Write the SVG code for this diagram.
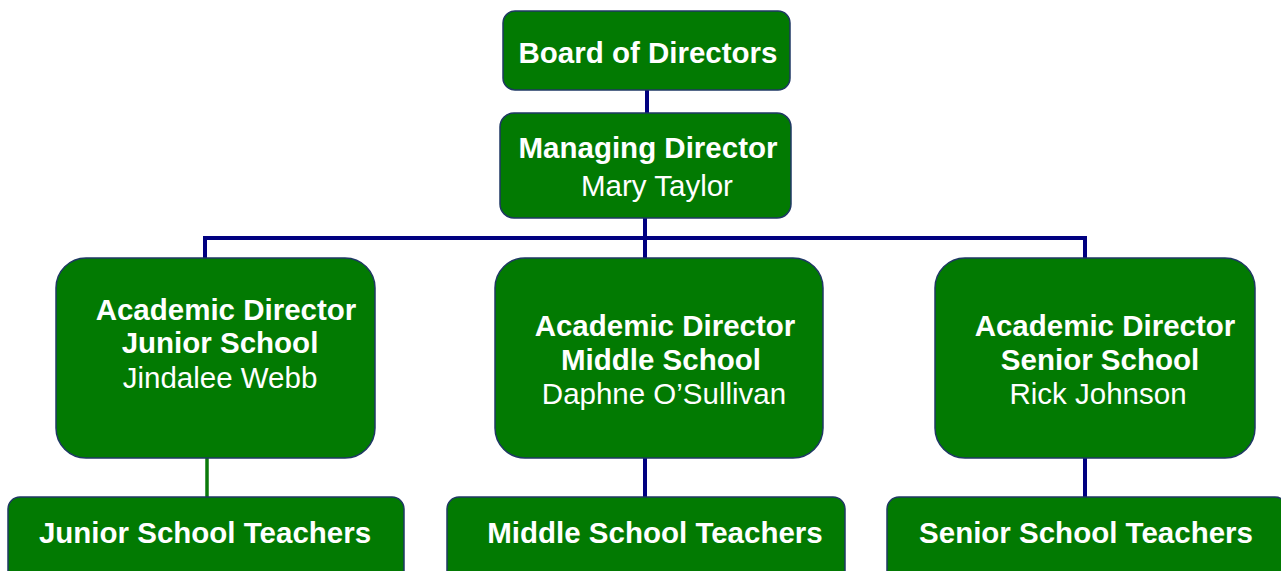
<svg xmlns="http://www.w3.org/2000/svg" width="1281" height="571" viewBox="0 0 1281 571">
<style>
.box{fill:#027a02;stroke:#1f3864;stroke-width:1.5}
.b{font-family:"Liberation Sans",Arial,sans-serif;font-weight:bold;font-size:29.5px;fill:#fff;text-anchor:middle}
.r{font-family:"Liberation Sans",Arial,sans-serif;font-size:29.5px;fill:#fff;text-anchor:middle}
.c{stroke:#000080;stroke-width:4;fill:none}
.g{stroke:#0b7a0b;stroke-width:3.5;fill:none}
</style>
<rect width="1281" height="571" fill="#fff"/>
<g id="connectors">
<line class="c" x1="647" y1="89" x2="647" y2="114"/>
<line class="c" x1="645" y1="217" x2="645" y2="238"/>
<polyline class="c" points="205,259 205,238 1085,238 1085,259"/>
<line class="c" x1="645" y1="238" x2="645" y2="259"/>
<line class="g" x1="207" y1="457" x2="207" y2="498"/>
<line class="c" x1="645" y1="457" x2="645" y2="498"/>
<line class="c" x1="1085" y1="457" x2="1085" y2="498"/>
</g>
<g id="board">
<rect class="box" x="503" y="11" width="287" height="79" rx="12"/>
<text class="b" x="648" y="63">Board of Directors</text>
</g>
<g id="managing">
<rect class="box" x="500" y="113" width="291" height="105" rx="14"/>
<text class="b" x="648" y="158">Managing Director</text>
<text class="r" x="657" y="196">Mary Taylor</text>
</g>
<g id="junior">
<rect class="box" x="56" y="258" width="319" height="200" rx="30"/>
<text class="b" x="226" y="320">Academic Director</text>
<text class="b" x="220" y="353">Junior School</text>
<text class="r" x="220" y="388">Jindalee Webb</text>
</g>
<g id="middle">
<rect class="box" x="495" y="258" width="328" height="200" rx="30"/>
<text class="b" x="665" y="336">Academic Director</text>
<text class="b" x="661" y="370">Middle School</text>
<text class="r" x="664" y="404">Daphne O’Sullivan</text>
</g>
<g id="senior">
<rect class="box" x="935" y="258" width="320" height="200" rx="30"/>
<text class="b" x="1105" y="336">Academic Director</text>
<text class="b" x="1100" y="370">Senior School</text>
<text class="r" x="1098" y="404">Rick Johnson</text>
</g>
<g id="junior-teachers">
<rect class="box" x="8" y="497" width="396" height="100" rx="12"/>
<text class="b" x="205" y="543">Junior School Teachers</text>
</g>
<g id="middle-teachers">
<rect class="box" x="447" y="497" width="398" height="100" rx="12"/>
<text class="b" x="655" y="543">Middle School Teachers</text>
</g>
<g id="senior-teachers">
<rect class="box" x="887" y="497" width="400" height="100" rx="12"/>
<text class="b" x="1086" y="543">Senior School Teachers</text>
</g>
</svg>
